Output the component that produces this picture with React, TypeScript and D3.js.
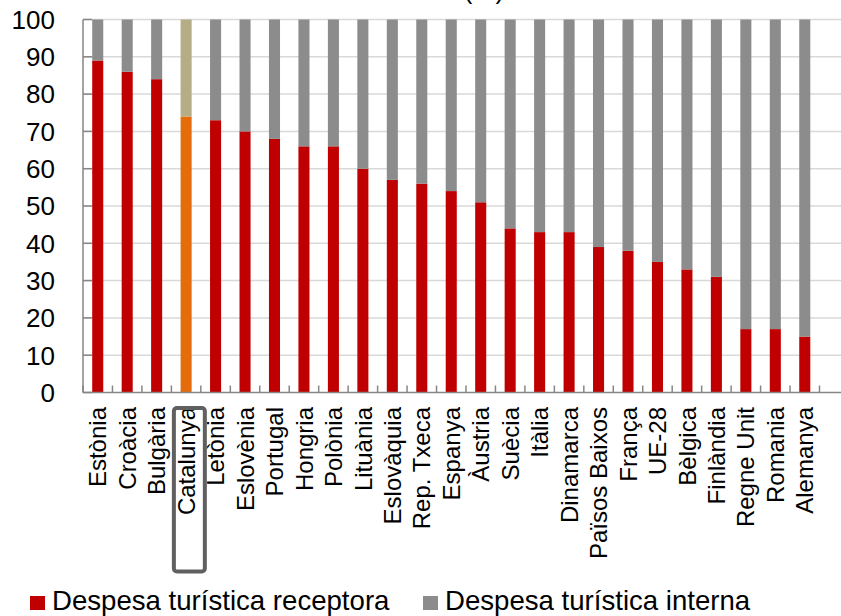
import React, { useRef, useEffect } from 'react';
import * as d3 from 'd3';

const categories = [
  'Estònia', 'Croàcia', 'Bulgària', 'Catalunya', 'Letònia', 'Eslovènia', 'Portugal',
  'Hongria', 'Polònia', 'Lituània', 'Eslovàquia', 'Rep. Txeca', 'Espanya', 'Àustria',
  'Suècia', 'Itàlia', 'Dinamarca', 'Països Baixos', 'França', 'UE-28', 'Bèlgica',
  'Finlàndia', 'Regne Unit', 'Romania', 'Alemanya',
];
const receptora = [89, 86, 84, 74, 73, 70, 68, 66, 66, 60, 57, 56, 54, 51, 44, 43, 43, 39, 38, 35, 33, 31, 17, 17, 15];
const interna = [11, 14, 16, 26, 27, 30, 32, 34, 34, 40, 43, 44, 46, 49, 56, 57, 57, 61, 62, 65, 67, 69, 83, 83, 85];
const yTicks = [0, 10, 20, 30, 40, 50, 60, 70, 80, 90, 100];
const seriesNames = ['Despesa turística receptora', 'Despesa turística interna'];
const highlight = 'Catalunya';

const W = 841;
const H = 616;
const FONT = '"Liberation Sans", Arial, sans-serif';

const Chart = () => {
  const svgRef = useRef<SVGSVGElement>(null);

  useEffect(() => {
    const svg = d3.select(svgRef.current);
    svg.selectAll('*').remove();

    const left = 83, right = 819.5, top = 19.5, bottom = 392.5;

    const x = d3.scaleBand<string>().domain(categories).range([left, right]).padding(0);
    const y = d3.scaleLinear().domain([0, 100]).range([bottom, top]);

    const colors = {
      receptora: '#C00000',
      interna: '#8C8C8C',
      receptoraHi: '#E46C0A',
      internaHi: '#B4AD87',
    };

    // title (cut off at the top, as in the source image)
    svg.append('text')
      .attr('x', 484).attr('y', -1.5)
      .attr('text-anchor', 'middle')
      .attr('font-family', FONT).attr('font-size', 26)
      .text('(%)');

    // gridlines
    svg.append('g')
      .selectAll('line')
      .data(yTicks.filter(d => d > 0))
      .enter().append('line')
      .attr('x1', left).attr('x2', W)
      .attr('y1', d => y(d)).attr('y2', d => y(d))
      .attr('stroke', '#D9D9D9').attr('stroke-width', 1.5);

    // stacked bars
    const rows = categories.map((c, i) => ({ name: c, receptora: receptora[i], interna: interna[i] }));
    const stack = d3.stack<any>().keys(['receptora', 'interna'])(rows);
    const barW = x.bandwidth() * 0.375;

    stack.forEach(layer => {
      svg.append('g')
        .selectAll('rect')
        .data(layer)
        .enter().append('rect')
        .attr('x', d => (x(d.data.name) as number) + x.bandwidth() / 2 - barW / 2)
        .attr('width', barW)
        .attr('y', d => y(d[1]))
        .attr('height', d => y(d[0]) - y(d[1]))
        .attr('fill', d => {
          const hi = d.data.name === highlight;
          if (layer.key === 'receptora') return hi ? colors.receptoraHi : colors.receptora;
          return hi ? colors.internaHi : colors.interna;
        });
    });

    // y axis
    const axisColor = '#868686';
    svg.append('line')
      .attr('x1', left).attr('x2', left).attr('y1', top).attr('y2', bottom)
      .attr('stroke', axisColor).attr('stroke-width', 1.5);
    svg.append('g')
      .selectAll('line')
      .data(yTicks)
      .enter().append('line')
      .attr('x1', left).attr('x2', left + 9)
      .attr('y1', d => y(d)).attr('y2', d => y(d))
      .attr('stroke', axisColor).attr('stroke-width', 1.5);
    svg.append('g')
      .selectAll('text')
      .data(yTicks)
      .enter().append('text')
      .attr('x', 55).attr('y', d => y(d))
      .attr('dy', '0.36em')
      .attr('text-anchor', 'end')
      .attr('font-family', FONT).attr('font-size', 26)
      .attr('fill', '#000')
      .text(d => d);

    // x axis
    svg.append('line')
      .attr('x1', left).attr('x2', W).attr('y1', bottom).attr('y2', bottom)
      .attr('stroke', axisColor).attr('stroke-width', 1.5);
    const bounds = categories.map(c => x(c) as number).concat([right]);
    svg.append('g')
      .selectAll('line')
      .data(bounds)
      .enter().append('line')
      .attr('x1', d => d).attr('x2', d => d)
      .attr('y1', bottom).attr('y2', bottom - 7)
      .attr('stroke', axisColor).attr('stroke-width', 1.5);
    svg.append('g')
      .selectAll('text')
      .data(categories)
      .enter().append('text')
      .attr('transform', d => `translate(${(x(d) as number) + x.bandwidth() / 2},407) rotate(-90)`)
      .attr('dy', '0.36em')
      .attr('text-anchor', 'end')
      .attr('font-family', FONT).attr('font-size', 24)
      .attr('fill', '#000')
      .text(d => d);

    // box around the highlighted label
    svg.append('rect')
      .attr('x', (x(highlight) as number) + 2.5)
      .attr('y', 408)
      .attr('width', x.bandwidth() + 1.5)
      .attr('height', 163.5)
      .attr('rx', 3)
      .attr('fill', 'none')
      .attr('stroke', '#606060').attr('stroke-width', 4);

    // legend
    const legend = svg.append('g')
      .selectAll('g')
      .data(seriesNames)
      .enter().append('g')
      .attr('transform', (d, i) => `translate(${i === 0 ? 30 : 423},0)`);
    legend.append('rect')
      .attr('x', 0).attr('y', 596)
      .attr('width', 15).attr('height', 14)
      .attr('fill', (d, i) => (i === 0 ? colors.receptora : colors.interna));
    legend.append('text')
      .attr('x', 22).attr('y', 610)
      .attr('font-family', FONT).attr('font-size', 27.6)
      .attr('fill', '#000')
      .text(d => d);
  }, []);

  return (
    <svg ref={svgRef} width={W} height={H}
      style={{ position: 'absolute', left: 0, top: 0, background: '#fff' }} />
  );
};

export default function App() {
  return <Chart />;
}
